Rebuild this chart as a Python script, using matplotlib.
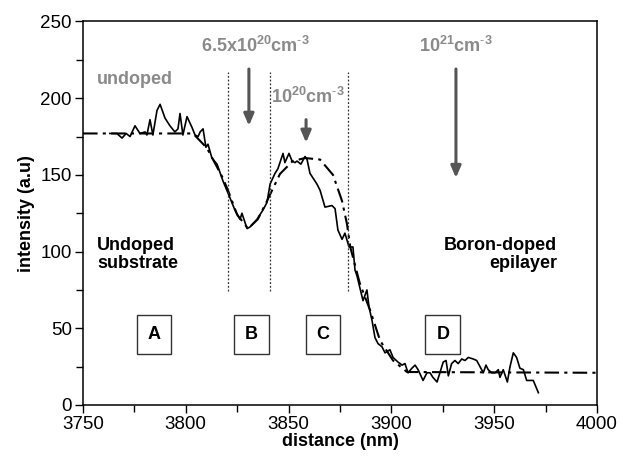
import matplotlib
matplotlib.use("Agg")
import matplotlib.pyplot as plt
from matplotlib.ticker import MultipleLocator

plt.rcParams['font.family'] = ['Liberation Sans', 'DejaVu Sans']
plt.rcParams['mathtext.fontset'] = 'custom'
plt.rcParams['mathtext.rm'] = 'Liberation Sans'
plt.rcParams['mathtext.bf'] = 'Liberation Sans:bold'

# measured profile (solid)
meas_x = [3763.1, 3766.5, 3769.0, 3771.0, 3772.9, 3775.3, 3777.7, 3780.2, 3781.1, 3782.6,
          3784.0, 3786.0, 3787.5, 3789.9, 3792.3, 3794.7, 3796.2, 3797.2, 3798.6, 3800.6,
          3803.0, 3804.5, 3806.0, 3807.0, 3808.4, 3809.8, 3810.8, 3812.7, 3815.2, 3818.1,
          3821.5, 3823.9, 3826.4, 3827.3, 3829.8, 3831.2, 3834.6, 3837.5, 3839.5, 3841.0,
          3843.4, 3844.8, 3847.3, 3848.2, 3850.2, 3851.7, 3853.1, 3854.1, 3856.0, 3858.0,
          3859.0, 3860.4, 3863.8, 3865.3, 3867.7, 3871.1, 3872.6, 3874.0, 3876.0, 3877.4,
          3879.4, 3881.3, 3882.3, 3883.3, 3886.2, 3888.1, 3889.1, 3890.6, 3892.0, 3893.5,
          3895.4, 3896.9, 3899.3, 3900.8, 3903.2, 3905.2, 3906.6, 3908.1, 3910.0, 3911.5,
          3913.0, 3915.4, 3917.3, 3918.8, 3920.2, 3922.2, 3923.6, 3925.2, 3926.6, 3927.7,
          3929.3, 3930.9, 3932.5, 3934.2, 3935.8, 3937.4, 3939.8, 3941.5, 3943.1, 3944.7,
          3946.0, 3947.1, 3948.8, 3950.4, 3952.0, 3952.8, 3954.4, 3956.4, 3957.7, 3959.3,
          3960.9, 3962.5, 3964.2, 3965.8, 3969.0, 3971.5]
meas_y = [177, 177, 174, 177, 175, 182, 177, 178, 176, 186,
          176, 192, 196, 187, 182, 178, 180, 190, 176, 188,
          181, 176, 175, 178, 180, 168, 170, 161, 157, 146,
          135, 127, 121, 125, 115, 116, 121, 127, 132, 144,
          151, 154, 164, 158, 164, 159, 158, 159, 157, 162,
          160, 151, 144, 140, 129, 130, 128, 114, 108, 112,
          103, 103, 88, 84, 68, 75, 64, 55, 44, 40,
          38, 34, 36, 31, 28, 26, 27, 21, 24, 26,
          23, 16, 21, 21, 18, 15, 21, 28, 29, 19,
          27, 29, 27, 30, 29, 31, 30, 29, 25, 21,
          26, 23, 21, 21, 23, 18, 23, 15, 25, 34,
          31, 24, 23, 16, 16, 8]

# fitted profile (dash-dot)
fit_x = [3750, 3803.5, 3810.3, 3818.0, 3820.5, 3825.0, 3830.3, 3835.0, 3839.5, 3845.8,
         3852.0, 3858.0, 3865.3, 3871.6, 3876.0, 3878.4, 3880.0, 3884.7, 3889.6, 3894.5,
         3900.8, 3907.6, 4000]
fit_y = [177, 177, 167.5, 148, 140, 124, 115, 121, 133, 150.6,
         159, 161, 160, 150, 133, 118, 103, 79, 62, 42,
         29, 21.5, 21]

region_bounds = [3820.5, 3841, 3879]
box_labels = ["A", "B", "C", "D"]
box_x = [3784.5, 3832, 3866.7, 3925]
box_y = 46

fig = plt.figure(figsize=(6.22, 4.57), dpi=100)
ax = fig.add_axes([0.1334, 0.1138, 0.8264, 0.8392])

ax.plot(fit_x, fit_y, color='black', lw=1.5, linestyle=(0, (7, 2.5, 1.5, 2.5)))
ax.plot(meas_x, meas_y, color='black', lw=1.2)

for xb in region_bounds:
    ax.plot([xb, xb], [74, 217], color='#333333', lw=0.9, linestyle=(0, (1.5, 1.5)))

gray = '#8a8a8a'
agray = '#555555'
fs = 13
ax.text(3775, 212, "undoped", color=gray, fontsize=fs, fontweight='bold', ha='center', va='center')
ax.text(3834, 234, r"6.5x10$^{\mathbf{20}}$cm$^{\mathbf{\text{-}3}}$", color=gray, fontsize=fs,
        fontweight='bold', ha='center', va='center')
ax.text(3859.4, 201, r"10$^{\mathbf{20}}$cm$^{\mathbf{\text{-}3}}$", color=gray, fontsize=fs,
        fontweight='bold', ha='center', va='center')
ax.text(3931.4, 234, r"10$^{\mathbf{21}}$cm$^{\mathbf{\text{-}3}}$", color=gray, fontsize=fs,
        fontweight='bold', ha='center', va='center')

arrows = [(3830.7, 219, 182), (3858.5, 186, 171), (3931.4, 219, 148)]
for ax_x, y0, y1 in arrows:
    ax.annotate("", xy=(ax_x, y1), xytext=(ax_x, y0),
                arrowprops=dict(arrowstyle='-|>,head_length=0.7,head_width=0.3',
                                color=agray, lw=2.2, shrinkA=0, shrinkB=0))

ax.text(3757, 98, "Undoped\nsubstrate", color='black', fontsize=fs, fontweight='bold',
        ha='left', va='center', linespacing=1.1)
ax.text(3980.5, 98, "Boron-doped\nepilayer", color='black', fontsize=fs, fontweight='bold',
        ha='right', va='center', linespacing=1.1, multialignment='right')

for lab, bx in zip(box_labels, box_x):
    ax.text(bx, box_y, lab, fontsize=fs, fontweight='bold', ha='center', va='center',
            bbox=dict(boxstyle='square,pad=0.6', fc='white', ec='#333333', lw=1.0))

ax.set_xlim(3750, 4000)
ax.set_ylim(0, 250)
ax.xaxis.set_major_locator(MultipleLocator(50))
ax.xaxis.set_minor_locator(MultipleLocator(25))
ax.yaxis.set_major_locator(MultipleLocator(50))
ax.yaxis.set_minor_locator(MultipleLocator(25))
ax.tick_params(which='both', direction='out', top=False, right=False, width=1.0, labelsize=13.5)
ax.tick_params(which='major', length=6, pad=2)
ax.tick_params(which='minor', length=5)
for s in ax.spines.values():
    s.set_linewidth(1.1)

ax.set_xlabel("distance (nm)", fontsize=13, fontweight='bold', labelpad=0)
ax.set_ylabel("intensity (a.u)", fontsize=13, fontweight='bold', labelpad=4)

fig.savefig("out.png", dpi=100)
